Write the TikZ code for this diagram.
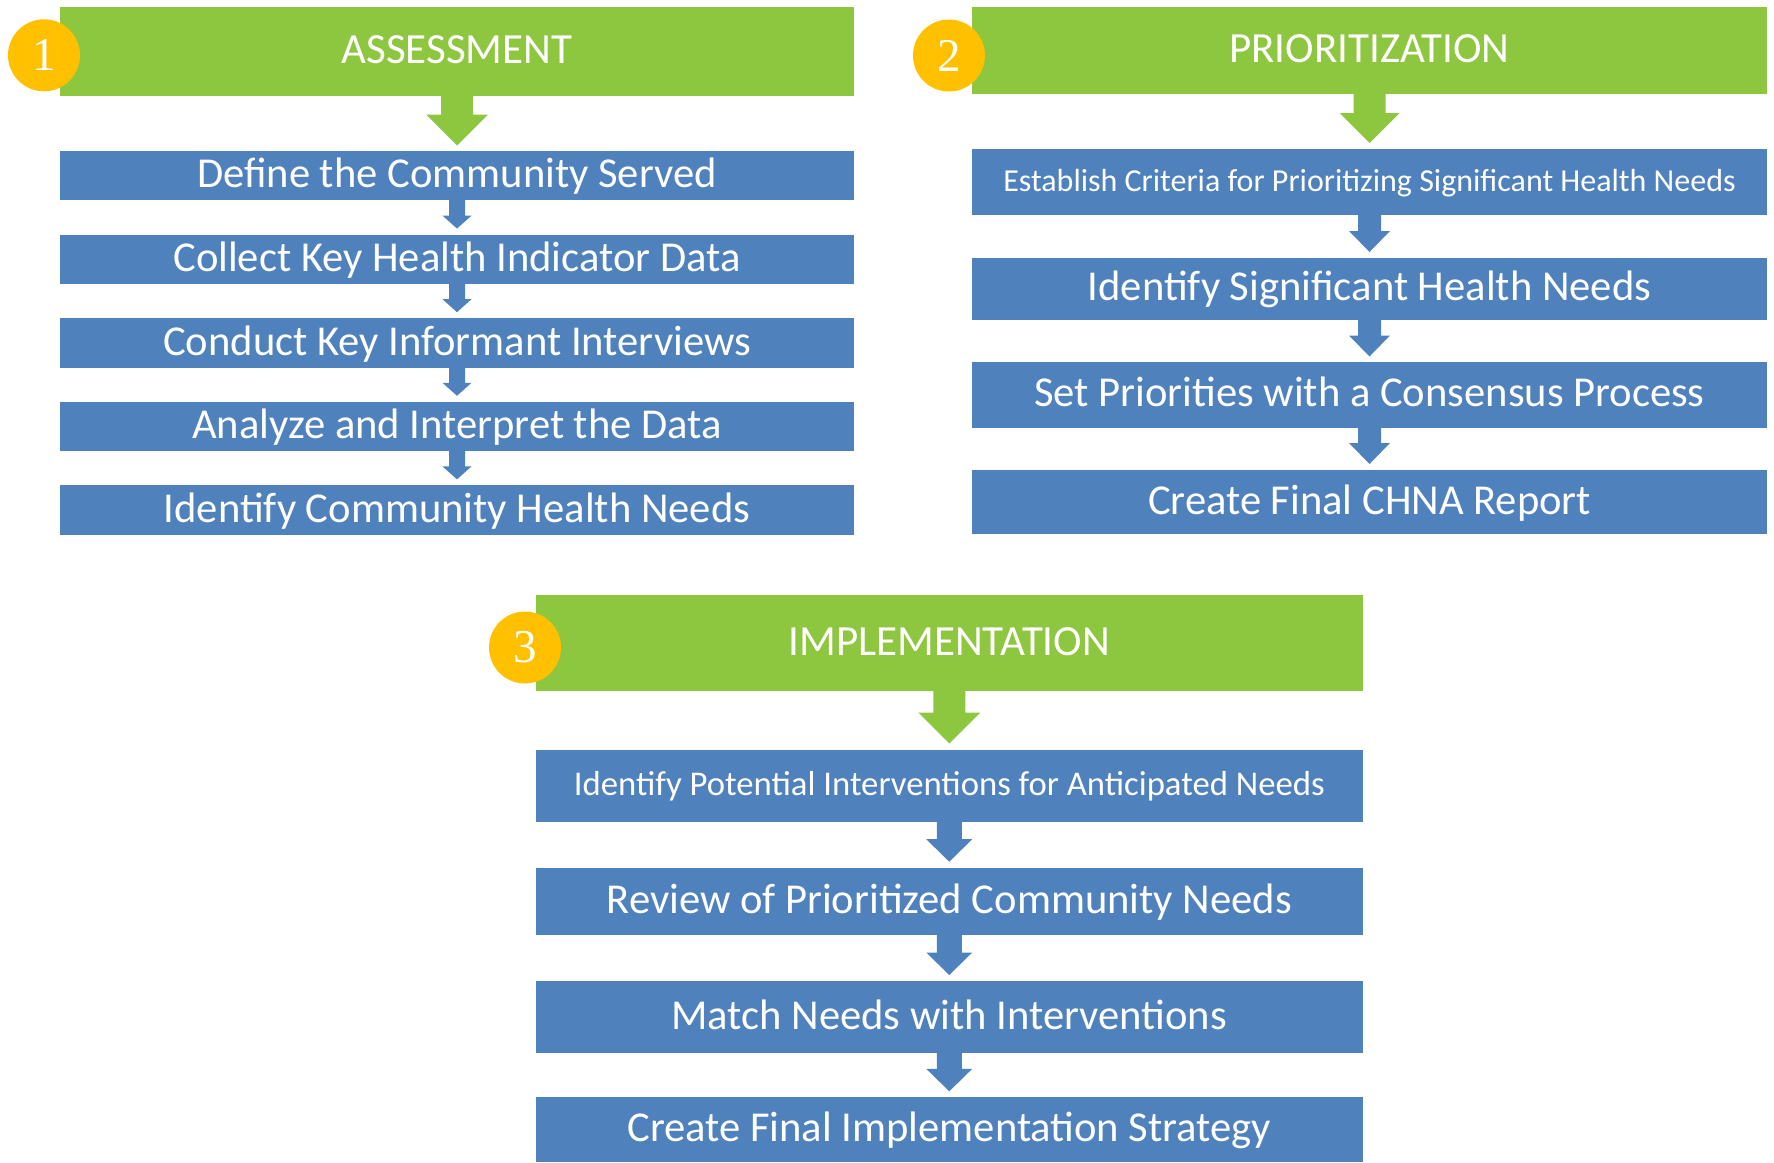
\documentclass[tikz,border=0pt]{standalone}
\usepackage{fontspec}
\setmainfont{Carlito}
\newfontfamily\numfont{Liberation Serif}
\usetikzlibrary{calc}
\definecolor{hgreen}{HTML}{8DC63F}
\definecolor{hblue}{HTML}{4F81BD}
\definecolor{hgold}{HTML}{FFC000}
\tikzset{
  barbase/.style={anchor=north west, inner sep=0pt, outer sep=0pt, text=white, align=center},
  greenbar/.style={barbase, fill=hgreen, font=\fontsize{43}{50}\selectfont, text height=27.6pt, text depth=3pt},
  bluebox/.style={barbase, fill=hblue, font=\fontsize{42.6}{50}\selectfont, text height=27.4pt, text depth=3pt},
  bluesmall/.style={barbase, fill=hblue, font=\fontsize{32}{38}\selectfont, text height=20.6pt, text depth=2pt},
  bluemid/.style={barbase, fill=hblue, font=\fontsize{34.7}{40}\selectfont, text height=22.3pt, text depth=2.2pt},
  numcircle/.style={circle, fill=hgold, minimum size=72pt, inner sep=0pt, text=white, font=\numfont\fontsize{47}{50}\selectfont},
}
% color, from, to, shaft half width, head half width, head length, gap
\newcommand\flowarrow[7]{%
  \fill[#1] ($(#2.south)+(-#4,-1)$) -- ($(#2.south)+(#4,-1)$)
    -- ($(#3.north)+(#4,-#7-#6)$) -- ($(#3.north)+(#5,-#7-#6)$)
    -- ($(#3.north)+(0,-#7)$)
    -- ($(#3.north)+(-#5,-#7-#6)$) -- ($(#3.north)+(-#4,-#7-#6)$) -- cycle;}
\begin{document}
\begin{tikzpicture}[x=1pt,y=-1pt]
\useasboundingbox (0,0) rectangle (1774,1162);
% ---------- Column 1: Assessment ----------
\node[greenbar, minimum width=794pt, minimum height=89pt] (g1) at (60,7) {ASSESSMENT};
\node[bluebox, minimum width=794pt, minimum height=49.3pt] (a1) at (60,151) {Define the Community Served};
\node[bluebox, minimum width=794pt, minimum height=49.3pt] (a2) at (60,234.6) {Collect Key Health Indicator Data};
\node[bluebox, minimum width=794pt, minimum height=49.3pt] (a3) at (60,318.2) {Conduct Key Informant Interviews};
\node[bluebox, minimum width=794pt, minimum height=49.3pt] (a4) at (60,401.8) {Analyze and Interpret the Data};
\node[bluebox, minimum width=794pt, minimum height=49.3pt] (a5) at (60,485.4) {Identify Community Health Needs};
\flowarrow{hgreen}{g1}{a1}{16}{31}{31}{5.5}
\flowarrow{hblue}{a1}{a2}{8}{14.5}{13}{6}
\flowarrow{hblue}{a2}{a3}{8}{14.5}{13}{6}
\flowarrow{hblue}{a3}{a4}{8}{14.5}{13}{6}
\flowarrow{hblue}{a4}{a5}{8}{14.5}{13}{6}
\node[numcircle] (n1) at (44,55.3) {1};
% ---------- Column 2: Prioritization ----------
\node[greenbar, minimum width=795pt, minimum height=87.3pt] (g2) at (972,7) {PRIORITIZATION};
\node[bluesmall, minimum width=795pt, minimum height=65.5pt] (p1) at (972,149) {Establish Criteria for Prioritizing Significant Health Needs};
\node[bluebox, minimum width=795pt, minimum height=62pt] (p2) at (972,257.5) {Identify Significant Health Needs};
\node[bluebox, minimum width=795pt, minimum height=65.5pt] (p3) at (972,362) {Set Priorities with a Consensus Process};
\node[bluebox, minimum width=795pt, minimum height=64.8pt] (p4) at (972,469.5) {Create Final CHNA Report};
\flowarrow{hgreen}{g2}{p1}{16}{30}{30}{6}
\flowarrow{hblue}{p1}{p2}{11.5}{20.5}{21}{5.5}
\flowarrow{hblue}{p2}{p3}{11.5}{20.5}{21}{5.5}
\flowarrow{hblue}{p3}{p4}{11.5}{20.5}{21}{5.5}
\node[numcircle] (n2) at (949,55.5) {2};
% ---------- Column 3: Implementation ----------
\node[greenbar, minimum width=826.5pt, minimum height=95.7pt] (g3) at (536,595) {IMPLEMENTATION};
\node[bluemid, minimum width=826.5pt, minimum height=72.2pt] (i1) at (536,749.5) {Identify Potential Interventions for Anticipated Needs};
\node[bluebox, minimum width=826.5pt, minimum height=67.3pt] (i2) at (536,867.7) {Review of Prioritized Community Needs};
\node[bluebox, minimum width=826.5pt, minimum height=71.7pt] (i3) at (536,981) {Match Needs with Interventions};
\node[bluebox, minimum width=826.5pt, minimum height=64.7pt] (i4) at (536,1097.3) {Create Final Implementation Strategy};
\flowarrow{hgreen}{g3}{i1}{16}{31}{31}{6}
\flowarrow{hblue}{i1}{i2}{12.5}{23}{22.5}{6}
\flowarrow{hblue}{i2}{i3}{12.5}{23}{22.5}{6}
\flowarrow{hblue}{i3}{i4}{12.5}{23}{22.5}{6}
\node[numcircle] (n3) at (525,647.5) {3};
\end{tikzpicture}
\end{document}
